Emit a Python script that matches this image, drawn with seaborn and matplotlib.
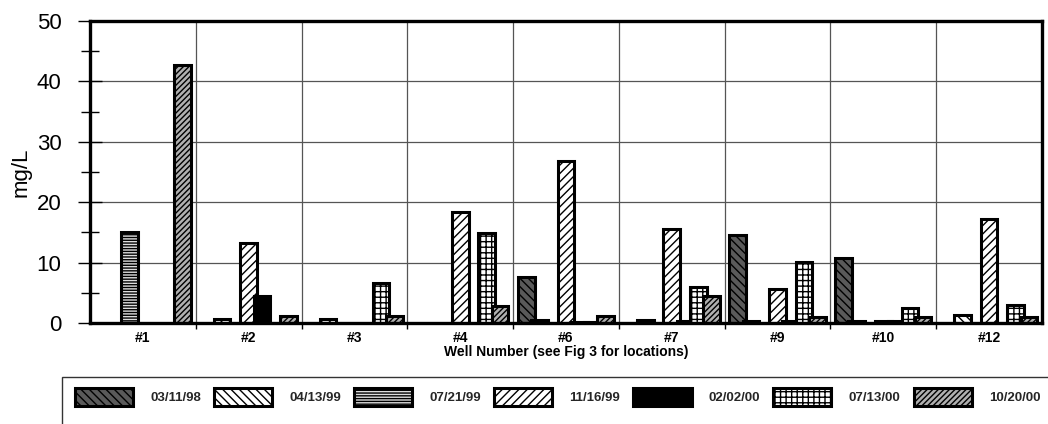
import numpy as np
import pandas as pd
import matplotlib
matplotlib.use('Agg')
import matplotlib.pyplot as plt
import matplotlib.patches as mpatches
from matplotlib.ticker import MultipleLocator, FixedLocator
import seaborn as sns

wells = ['#1', '#2', '#3', '#4', '#6', '#7', '#9', '#10', '#12']
dates = ['03/11/98', '04/13/99', '07/21/99', '11/16/99', '02/02/00', '07/13/00', '10/20/00']
nan = np.nan
v_031198 = [nan, nan, nan, nan, 7.6, nan, 14.6, 10.7, nan]
v_041399 = [nan, 0.6, 0.6, nan, 0.5, 0.5, 0.4, 0.4, 1.3]
v_072199 = [15.1, nan, nan, nan, nan, nan, nan, nan, nan]
v_111699 = [nan, 13.2, nan, 18.3, 26.9, 15.5, 5.7, 0.4, 17.2]
v_020200 = [nan, 4.5, nan, nan, 0.2, 0.4, 0.4, 0.4, nan]
v_071300 = [nan, nan, 6.7, 14.9, 0.2, 5.9, 10.1, 2.5, 2.9]
v_102000 = [42.7, 1.1, 1.1, 2.8, 1.1, 4.5, 1.0, 1.0, 1.0]
series = [v_031198, v_041399, v_072199, v_111699, v_020200, v_071300, v_102000]

rows = []
for d, vals in zip(dates, series):
    for w, v in zip(wells, vals):
        rows.append({'well': w, 'date': d, 'value': v})
df = pd.DataFrame(rows).dropna()

sns.set_theme(style='white')
plt.rcParams['font.family'] = ['Liberation Sans', 'DejaVu Sans']
plt.rcParams['hatch.color'] = 'black'
plt.rcParams['hatch.linewidth'] = 1.0

# style per series: (facecolor, hatch)
styles = [
    ('#5a5a5a', '\\\\\\\\'),
    ('white', '\\\\\\\\'),
    ('#dddddd', '------'),
    ('white', '////'),
    ('black', ''),
    ('white', '+++'),
    ('#b0b0b0', '//////'),
]

fig = plt.figure(figsize=(10.48, 4.24), dpi=100)
ax = fig.add_axes([90 / 1048, 1 - 323 / 424, 952 / 1048, 302 / 424])

sns.barplot(data=df, x='well', y='value', hue='date', order=wells, hue_order=dates,
            width=0.878, dodge=True, palette=['white'] * 7, saturation=1,
            edgecolor='black', linewidth=2.2, legend=False, errorbar=None, ax=ax)

bar_w = 0.1575
for cont, (fc, hatch) in zip(ax.containers, styles):
    for bar in cont:
        cx = bar.get_x() + bar.get_width() / 2
        bar.set_x(cx - bar_w / 2)
        bar.set_width(bar_w)
        bar.set_facecolor(fc)
        bar.set_edgecolor('black')
        bar.set_hatch(hatch)

ax.set_xlim(-0.5, len(wells) - 0.5)
ax.set_ylim(0, 50)
ax.yaxis.set_major_locator(MultipleLocator(10))
ax.yaxis.set_minor_locator(MultipleLocator(5))
ax.set_xticks(range(len(wells)))
ax.set_xticklabels(wells, fontweight='bold', fontsize=10)
ax.xaxis.set_minor_locator(FixedLocator(np.arange(0.5, len(wells) - 1, 1.0)))
ax.tick_params(axis='x', which='major', length=0, pad=6, colors='black')
ax.tick_params(axis='x', which='minor', length=4, width=1, direction='out', bottom=True, color='black')
ax.tick_params(axis='y', which='major', length=17, width=1, direction='inout', left=True,
               labelsize=16, pad=12, colors='black')
ax.tick_params(axis='y', which='minor', length=13, width=1, direction='inout', left=True, color='black')

ax.set_axisbelow(True)
ax.grid(axis='y', which='major', color='#555555', linewidth=0.9)
ax.grid(axis='y', which='minor', visible=False)
ax.grid(axis='x', which='major', visible=False)
ax.grid(axis='x', which='minor', color='#555555', linewidth=0.9)

for s in ax.spines.values():
    s.set_visible(True)
    s.set_color('black')
    s.set_linewidth(2.4)

ax.set_ylabel('mg/L', fontsize=16, labelpad=4, color='black')
ax.set_xlabel('Well Number (see Fig 3 for locations)', fontsize=10, fontweight='bold',
              labelpad=0, color='black')

handles = []
for d, (fc, hatch) in zip(dates, styles):
    handles.append(mpatches.Patch(facecolor=fc, edgecolor='black', hatch=hatch,
                                  linewidth=2.2, label=d))

fig.legend(handles=handles, loc='center left', bbox_to_anchor=(75 / 1048, 1 - 397 / 424),
           ncol=7, frameon=False, borderpad=0, borderaxespad=0,
           handlelength=4.4, handleheight=1.75, handletextpad=1.3, columnspacing=1.0,
           prop={'weight': 'bold', 'size': 9.5})

frame = mpatches.Rectangle((62 / 1048, -0.1), 1.0, (424 - 377) / 424 + 0.1,
                           transform=fig.transFigure, fill=False, edgecolor='#333333',
                           linewidth=1.0, clip_on=False)
fig.patches.append(frame)

fig.savefig('out.png', dpi=100)
